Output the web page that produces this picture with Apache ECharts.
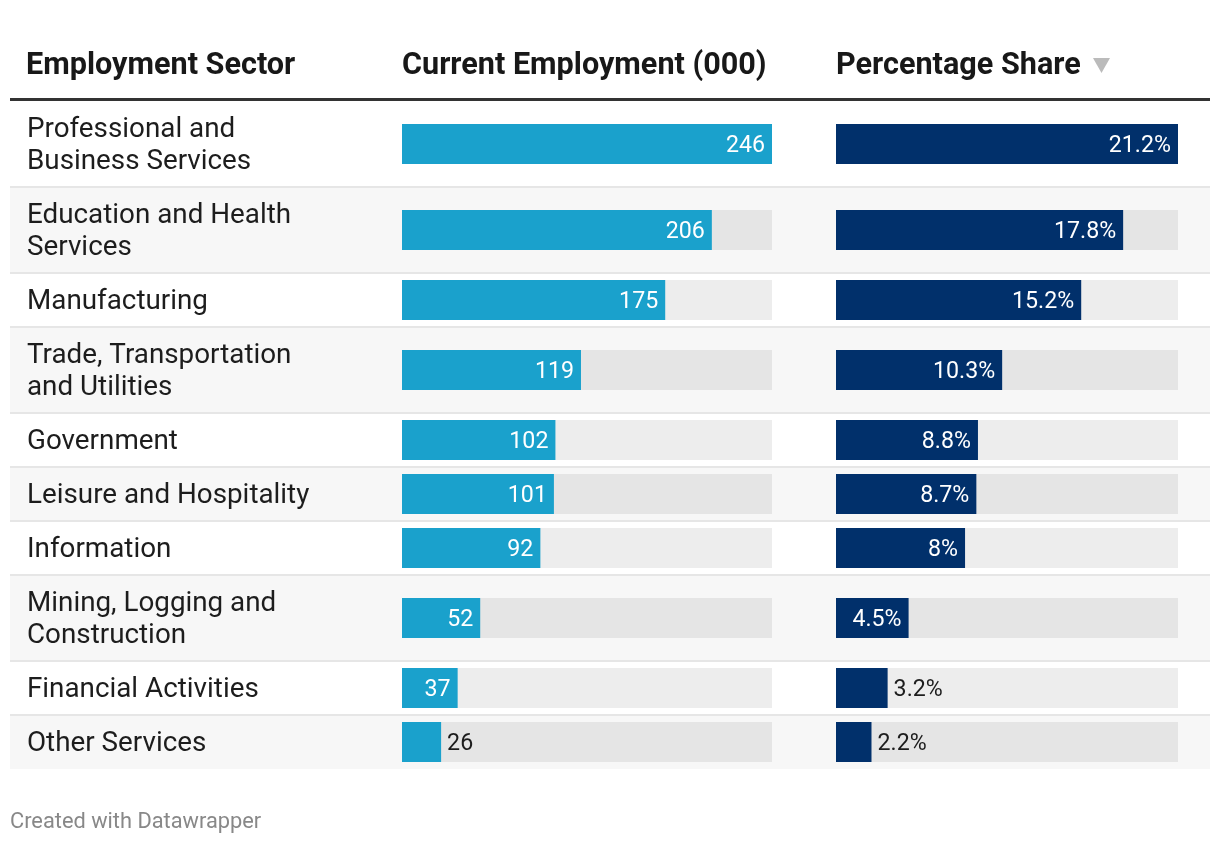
<!DOCTYPE html>
<html><head><meta charset="utf-8">
<script src="https://cdn.jsdelivr.net/npm/echarts@6/dist/echarts.min.js"></script>
<style>html,body{margin:0;padding:0;background:#fff}#c{width:1220px;height:844px}</style>
</head><body><div id="c"></div>
<script>
// ---- data ----
const categories = ['Professional and Business Services','Education and Health Services','Manufacturing','Trade, Transportation and Utilities','Government','Leisure and Hospitality','Information','Mining, Logging and Construction','Financial Activities','Other Services'];
const employment = [246, 206, 175, 119, 102, 101, 92, 52, 37, 26];
const share = [21.2, 17.8, 15.2, 10.3, 8.8, 8.7, 8.0, 4.5, 3.2, 2.2];
const headers = ['Employment Sector', 'Current Employment (000)', 'Percentage Share'];
const footer = 'Created with Datawrapper';

// ---- styling / layout ----
const FAM = 'Roboto, "Open Sans", sans-serif';
const ROW_FS = 27.8, VAL_FS = 23.2, HEAD_FS = 30.6, FOOT_FS = 21.8;
const LINE_H = 32, PAD_V = 22, BAR_H = 40;
const TABLE_TOP = 101, TABLE_L = 10, TABLE_R = 1210;
const WRAP_W = 300;
const BLUE = '#1aa1cc', NAVY = '#01306b';

const cv = document.createElement('canvas').getContext('2d');
function measure(t, font) { cv.font = font; return cv.measureText(t).width; }
function wrap(t) {
  const words = t.split(' '); const lines = []; let cur = '';
  words.forEach(w => {
    const test = cur ? cur + ' ' + w : w;
    if (measure(test, ROW_FS + 'px ' + FAM) > WRAP_W && cur) { lines.push(cur); cur = w; } else cur = test;
  });
  lines.push(cur); return lines;
}

function build() {
  const wrapped = categories.map(wrap);
  const rowTop = [], rowH = [];
  let y = TABLE_TOP;
  wrapped.forEach((l, i) => { rowTop.push(y); const h = l.length * LINE_H + PAD_V; rowH.push(h); y += h; });

  const rowData = categories.map((c, i) => [0, rowTop[i], rowH[i]]);
  const empData = employment.map((v, i) => [v, rowTop[i] + rowH[i] / 2]);
  const shrData = share.map((v, i) => [v, rowTop[i] + rowH[i] / 2]);

  function rowRender(params, api) {
    const i = params.dataIndex;
    const top = api.coord([0, api.value(1)])[1];
    const h = api.size([0, api.value(2)])[1];
    const ch = [];
    if (i % 2 === 1) ch.push({ type: 'rect', shape: { x: TABLE_L, y: top, width: TABLE_R - TABLE_L, height: h }, style: { fill: '#f7f7f7' } });
    if (i > 0) ch.push({ type: 'rect', shape: { x: TABLE_L, y: top - 1, width: TABLE_R - TABLE_L, height: 2 }, style: { fill: '#e6e6e6' } });
    ch.push({ type: 'text', style: { text: wrapped[i].join('\n'), x: 27, y: top + h / 2 + 2.5, align: 'left', verticalAlign: 'middle', lineHeight: LINE_H, fill: '#1d1d1d', font: ROW_FS + 'px ' + FAM } });
    return { type: 'group', children: ch };
  }

  function barRender(color, fmt, maxV) {
    return function (params, api) {
      const v = api.value(0);
      const cy = api.coord([0, api.value(1)])[1];
      const x0 = api.coord([0, 0])[0];
      const x1 = api.coord([v, 0])[0];
      const xm = api.coord([maxV, 0])[0];
      const txt = fmt(v);
      const font = VAL_FS + 'px ' + FAM;
      const tw = measure(txt, font);
      const inside = (x1 - x0) > tw + 22;
      return { type: 'group', children: [
        { type: 'rect', shape: { x: x0, y: cy - BAR_H / 2, width: xm - x0, height: BAR_H }, style: { fill: 'rgba(0,0,0,0.07)' } },
        { type: 'rect', shape: { x: x0, y: cy - BAR_H / 2, width: x1 - x0, height: BAR_H }, style: { fill: color } },
        { type: 'text', style: { text: txt, x: inside ? x1 - 7 : x1 + 6, y: cy + 2, align: inside ? 'right' : 'left', verticalAlign: 'middle', fill: inside ? '#fff' : '#1d1d1d', font: font } }
      ] };
    };
  }

  const empMax = Math.max.apply(null, employment);
  const shrMax = Math.max.apply(null, share);
  const yAx = gi => ({ type: 'value', gridIndex: gi, min: 0, max: 844, inverse: true, show: false });
  const headFont = 'bold ' + HEAD_FS + 'px ' + FAM;
  const headY = 74 - 0.24 * HEAD_FS;

  const chart = echarts.init(document.getElementById('c'), null, { renderer: 'canvas' });
  chart.setOption({
    animation: false,
    backgroundColor: '#fff',
    grid: [
      { left: 0, top: 0, width: 1220, height: 844 },
      { left: 402, top: 0, width: 370, height: 844 },
      { left: 836, top: 0, width: 342, height: 844 }
    ],
    xAxis: [
      { type: 'value', gridIndex: 0, min: 0, max: 1, show: false },
      { type: 'value', gridIndex: 1, min: 0, max: empMax, show: false },
      { type: 'value', gridIndex: 2, min: 0, max: shrMax, show: false }
    ],
    yAxis: [yAx(0), yAx(1), yAx(2)],
    series: [
      { type: 'custom', xAxisIndex: 0, yAxisIndex: 0, data: rowData, renderItem: rowRender, silent: true, z: 1 },
      { type: 'custom', xAxisIndex: 1, yAxisIndex: 1, data: empData, renderItem: barRender(BLUE, v => String(v), empMax), silent: true, z: 2 },
      { type: 'custom', xAxisIndex: 2, yAxisIndex: 2, data: shrData, renderItem: barRender(NAVY, v => String(v) + '%', shrMax), silent: true, z: 2 }
    ],
    graphic: [
      { type: 'text', x: 26, y: headY, style: { text: headers[0], font: headFont, fill: '#181818', align: 'left', verticalAlign: 'middle' } },
      { type: 'text', x: 402, y: headY, style: { text: headers[1], font: headFont, fill: '#181818', align: 'left', verticalAlign: 'middle' } },
      { type: 'text', x: 836, y: headY, style: { text: headers[2], font: headFont, fill: '#181818', align: 'left', verticalAlign: 'middle' } },
      { type: 'polygon', shape: { points: [[1093, 58], [1110, 58], [1101.5, 73]] }, style: { fill: '#bbbbbb' } },
      { type: 'rect', shape: { x: TABLE_L, y: 98, width: TABLE_R - TABLE_L, height: 3 }, style: { fill: '#333333' } },
      { type: 'text', x: 10, y: 828 - 0.24 * FOOT_FS, style: { text: footer, font: FOOT_FS + 'px ' + FAM, fill: '#888888', align: 'left', verticalAlign: 'middle' } }
    ]
  });
}
if (document.fonts && document.fonts.load) {
  Promise.all([document.fonts.load(ROW_FS + 'px Roboto'), document.fonts.load('bold ' + HEAD_FS + 'px Roboto')]).then(build, build);
} else build();
</script></body></html>
